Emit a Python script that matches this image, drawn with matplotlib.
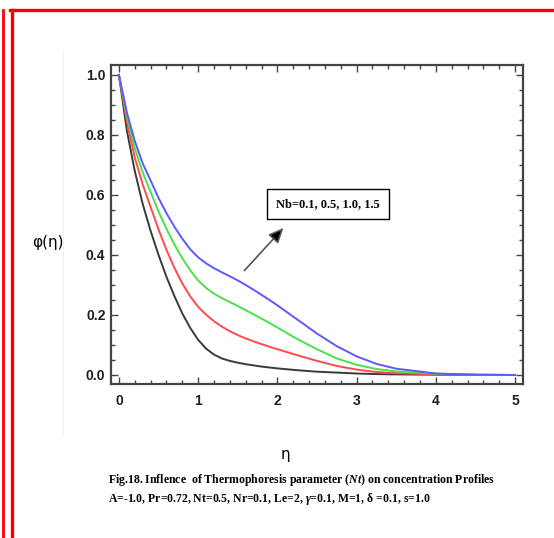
import numpy as np
import matplotlib
matplotlib.use("Agg")
import matplotlib.pyplot as plt
from matplotlib.lines import Line2D
from matplotlib.ticker import MultipleLocator

plt.rcParams['mathtext.fontset'] = 'custom'
plt.rcParams['mathtext.rm'] = 'Liberation Serif:bold'
plt.rcParams['mathtext.it'] = 'Liberation Serif:italic:bold'

# eta grid
eta = [0, 0.1, 0.2, 0.3, 0.4, 0.5, 0.6, 0.7, 0.8, 0.9, 1.0, 1.1, 1.2, 1.3,
       1.4, 1.5, 1.6, 1.7, 1.8, 1.9, 2.0, 2.25, 2.5, 2.75, 3.0, 3.25, 3.5,
       4.0, 4.5, 5.0]

# concentration profiles phi(eta) for Nb = 0.1, 0.5, 1.0, 1.5
phi_nb01 = [1.0, 0.815, 0.68, 0.57, 0.48, 0.40, 0.327, 0.263, 0.205, 0.157,
            0.117, 0.088, 0.068, 0.055, 0.047, 0.041, 0.036, 0.032, 0.028,
            0.025, 0.022, 0.016, 0.011, 0.008, 0.005, 0.003, 0.002, 0.001,
            0.0, 0.0]
phi_nb05 = [1.0, 0.845, 0.725, 0.635, 0.56, 0.485, 0.417, 0.357, 0.305,
            0.262, 0.227, 0.201, 0.179, 0.161, 0.146, 0.133, 0.122, 0.112,
            0.103, 0.094, 0.086, 0.066, 0.047, 0.030, 0.018, 0.010, 0.006,
            0.002, 0.001, 0.0]
phi_nb10 = [1.0, 0.865, 0.755, 0.675, 0.61, 0.545, 0.487, 0.435, 0.389,
            0.349, 0.315, 0.29, 0.271, 0.256, 0.243, 0.23, 0.216, 0.202,
            0.188, 0.173, 0.158, 0.12, 0.086, 0.055, 0.034, 0.02, 0.012,
            0.004, 0.001, 0.0]
phi_nb15 = [1.0, 0.875, 0.78, 0.705, 0.648, 0.59, 0.539, 0.494, 0.454,
            0.419, 0.392, 0.372, 0.356, 0.342, 0.329, 0.315, 0.30, 0.284,
            0.267, 0.25, 0.232, 0.185, 0.138, 0.096, 0.062, 0.037, 0.021,
            0.005, 0.001, 0.0]

series = [phi_nb01, phi_nb05, phi_nb10, phi_nb15]
colors = ['#3a3a3a', '#ff4a4a', '#4ae04a', '#5a5aff']

fig = plt.figure(figsize=(5.54, 5.38), dpi=100)
ax = fig.add_axes([111 / 554, 154 / 538, 412 / 554, 319 / 538])

for phi, c in zip(series, colors):
    ax.plot(eta, phi, color=c, lw=1.4)

ax.set_xlim(-0.1, 5.1)
ax.set_ylim(-0.03, 1.033)
ax.xaxis.set_major_locator(MultipleLocator(1))
ax.xaxis.set_minor_locator(MultipleLocator(0.2))
ax.yaxis.set_major_locator(MultipleLocator(0.2))
ax.yaxis.set_minor_locator(MultipleLocator(0.05))
ax.tick_params(which='both', direction='in', top=True, right=True,
               color='#444444', width=1.0)
ax.tick_params(which='major', length=5)
ax.tick_params(which='minor', length=3)
ax.tick_params(labelsize=10, labelcolor='#1e1e2a')
ax.tick_params(axis='x', pad=7)
ax.tick_params(axis='y', pad=4)
ax.yaxis.set_major_formatter(plt.FormatStrFormatter('%.1f'))
for lab in ax.get_xticklabels() + ax.get_yticklabels():
    lab.set_fontweight('bold')
    lab.set_family('Liberation Sans')
for s in ax.spines.values():
    s.set_color('#444444')
    s.set_linewidth(1.6)

fig.text(48 / 554, 1 - 242 / 538, 'φ(η)', ha='center', va='center',
         fontsize=11, family='DejaVu Sans')
fig.text(285 / 554, 1 - 455 / 538, 'η', ha='center', va='center',
         fontsize=11, family='DejaVu Sans')

# annotation box and arrow
ax.text(2.64, 0.57, 'Nb=0.1, 0.5, 1.0, 1.5', ha='center', va='center',
        fontsize=9, family='Liberation Serif', fontweight='bold',
        bbox=dict(boxstyle='square,pad=0.75', fc='white', ec='black', lw=1))
ax.annotate('', xy=(2.1, 0.497), xytext=(1.56, 0.341),
            arrowprops=dict(arrowstyle='-|>,head_length=0.9,head_width=0.4',
                            ec='#555555', fc='black', lw=1.2))

# caption
fig.text(108 / 554, 1 - 480 / 538,
         r'Fig.18. Inflence  of Thermophoresis parameter ($\mathit{Nt}$) on concentration Profiles',
         ha='left', va='center', fontsize=8.5, family='Liberation Serif',
         fontweight='bold')
fig.text(108 / 554, 1 - 499 / 538,
         r'A=-1.0, Pr=0.72, Nt=0.5, Nr=0.1, Le=2, $\gamma$=0.1, M=1, δ =0.1, s=1.0',
         ha='left', va='center', fontsize=8.5, family='Liberation Serif',
         fontweight='bold')

# red page border and faint image edge
fig.add_artist(Line2D([10 / 554, 1], [1 - 9.5 / 538] * 2, color='red', lw=2.4))
fig.add_artist(Line2D([2.5 / 554] * 2, [0, 1 - 9.5 / 538], color='red', lw=2.0))
fig.add_artist(Line2D([11.5 / 554] * 2, [0, 1 - 9.5 / 538], color='red', lw=2.4))
fig.add_artist(Line2D([63 / 554] * 2, [1 - 433 / 538, 1 - 52 / 538],
                      color='#f0f0f0', lw=0.8))

fig.savefig('out.png', dpi=100)
